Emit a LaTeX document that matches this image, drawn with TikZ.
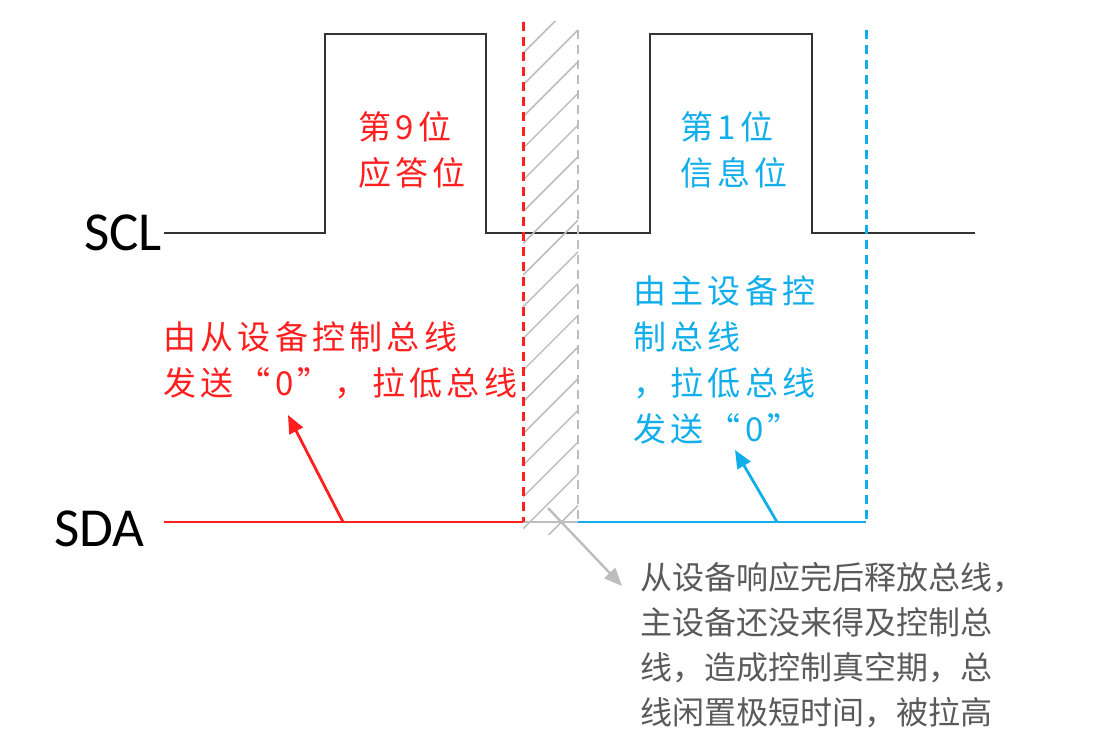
\documentclass[tikz,border=0pt]{standalone}
\usepackage{fontspec}
\setmainfont{Carlito}
\newfontfamily\cjkwide[LetterSpace=13]{Noto Sans CJK SC}
\newfontfamily\cjkplain{Noto Sans CJK SC}
\usetikzlibrary{arrows.meta, positioning}
\definecolor{sigred}{HTML}{FF1F1F}
\definecolor{sigblue}{HTML}{12AEEB}
\definecolor{notegray}{HTML}{5A5A5A}
\definecolor{hatchgray}{HTML}{BDBDBD}

\begin{document}
\begin{tikzpicture}[x=1pt, y=-1pt, >={Triangle[length=18pt, width=15pt]},
    wave/.style={line width=2.8pt, draw=black!80},
    sig/.style={line width=2.8pt},
    bound/.style={line width=3pt, dash pattern=on 9pt off 6pt},
    busname/.style={inner sep=0pt, font=\fontsize{55}{60}\selectfont},
    remark/.style={inner sep=0pt, align=left, anchor=west,
      font=\cjkwide\fontsize{33}{46}\selectfont},
    graynote/.style={inner sep=0pt, align=left, anchor=west, text=notegray,
      font=\cjkplain\fontsize{32}{45}\selectfont}]
  \useasboundingbox (0,0) rectangle (1115,746);

  % bus labels
  \coordinate (sclstart) at (164,233);
  \coordinate (sdastart) at (164,522);
  \node (scl) [busname, left=2pt of sclstart] {SCL};
  \node (sda) [busname, left=19pt of sdastart, yshift=-7pt] {SDA};

  % clock
  \draw[wave] (sclstart) -- (325,233) -- (325,34) -- (486,34) -- (486,233)
    -- (650,233) -- (650,34) -- (812,34) -- (812,233) -- (975,233);

  % gap while nobody drives the bus
  \begin{scope}
    \clip (523,22) rectangle (578,534);
    \foreach \k in {-2,...,15}
      \draw[hatchgray, line width=1.5pt] (523,85+31.7*\k) -- ++(55,-55);
  \end{scope}
  \draw[hatchgray, line width=2.4pt] (523,522) -- (578,522);
  \draw[bound, sigred] (523,22) -- (523,522);
  \draw[bound, hatchgray, line width=2.4pt] (578,30) -- (578,522);
  \draw[bound, sigblue] (866,30) -- (866,522);

  % data line
  \draw[sig, sigred] (sdastart) -- (523,522);
  \draw[sig, sigblue] (578,522) -- (866,522);

  % texts
  \node (ackbit) [remark, text=sigred] at (358,150) {第9位\\应答位};
  \node (databit) [remark, text=sigblue] at (680,150) {第1位\\信息位};
  \node (slavenote) [remark, text=sigred] at (163,360)
    {由从设备控制总线\\发送“0”，拉低总线};
  \node (masternote) [remark, text=sigblue] at (633,360)
    {由主设备控\\制总线\\，拉低总线\\发送“0”};
  \node (gapnote) [graynote] at (640,645)
    {从设备响应完后释放总线，\\主设备还没来得及控制总\\线，造成控制真空期，总\\线闲置极短时间，被拉高};

  % pointers
  \coordinate (redfoot) at (343,522);
  \coordinate (redtip) at (288,415);
  \coordinate (bluefoot) at (777,522);
  \coordinate (bluetip) at (735,450);
  \coordinate (grayfoot) at (548,508);
  \coordinate (graytip) at (622,586);
  \draw[->, sig, sigred] (redfoot) -- (redtip);
  \draw[->, sig, sigblue] (bluefoot) -- (bluetip);
  \draw[->, hatchgray, line width=2.4pt] (grayfoot) -- (graytip);
\end{tikzpicture}
\end{document}
